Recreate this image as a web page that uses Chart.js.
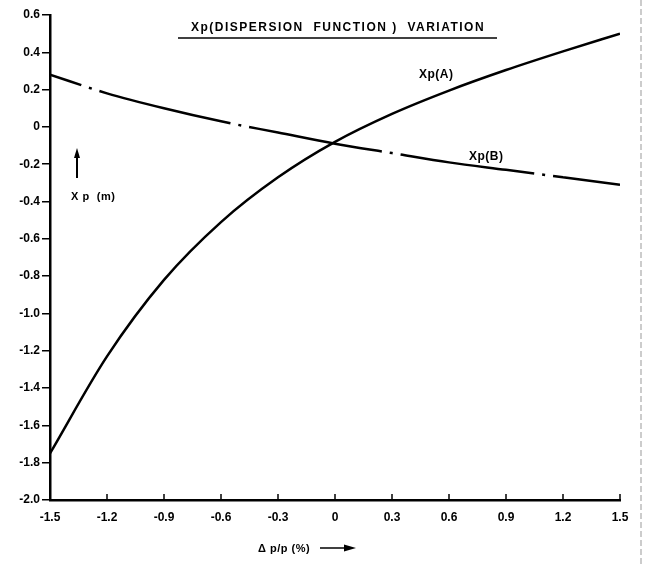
<!DOCTYPE html>
<html lang="en">
<head>
    <meta charset="UTF-8">
    <title>Xp variation</title>
    <script src="https://cdn.jsdelivr.net/npm/chart.js"></script>
    <style>
        html, body { margin: 0; padding: 0; background: #fff; }
        #wrap { width: 648px; height: 566px; }
    </style>
</head>
<body>
    <div id="wrap"><canvas id="grafica"></canvas></div>
<script>

// dp/p (%) at each tick
const dpp = [-1.5, -1.2, -0.9, -0.6, -0.3, 0, 0.3, 0.6, 0.9, 1.2, 1.5];
// Xp(A), Xp(B) in m
const xpA = [-1.75, -1.23, -0.82, -0.51, -0.27, -0.08, 0.07, 0.195, 0.305, 0.405, 0.50];
const xpB = [0.28, 0.18, 0.10, 0.03, -0.03, -0.09, -0.14, -0.19, -0.23, -0.27, -0.31];

const xTicks = ['-1.5', '-1.2', '-0.9', '-0.6', '-0.3', '0', '0.3', '0.6', '0.9', '1.2', '1.5'];
const yTicks = ['0.6', '0.4', '0.2', '0', '-0.2', '-0.4', '-0.6', '-0.8', '-1.0', '-1.2', '-1.4', '-1.6', '-1.8', '-2.0'];

const fuente = '"Liberation Sans", Arial, sans-serif';

function puntos(ys) {
    return dpp.map((x, i) => ({ x: x, y: ys[i] }));
}

// extra text, arrows and inward x ticks
const extras = {
    id: 'extras',
    afterDraw(chart) {
        const c = chart.ctx;
        const xs = chart.scales.x;
        const area = chart.chartArea;
        c.save();
        c.strokeStyle = '#000';
        c.fillStyle = '#000';

        // x ticks pointing up
        c.lineWidth = 1.5;
        for (const v of dpp) {
            const px = xs.getPixelForValue(v);
            c.beginPath();
            c.moveTo(px, area.bottom);
            c.lineTo(px, area.bottom - 6);
            c.stroke();
        }

        // title
        c.font = 'bold 12px ' + fuente;
        c.letterSpacing = '1.5px';
        c.textAlign = 'center';
        c.textBaseline = 'alphabetic';
        c.fillText('Xp(DISPERSION  FUNCTION )  VARIATION', 338, 31);
        c.lineWidth = 1.5;
        c.beginPath();
        c.moveTo(178, 38);
        c.lineTo(497, 38);
        c.stroke();

        // curve labels
        c.letterSpacing = '0.5px';
        c.textAlign = 'left';
        c.fillText('Xp(A)', 419, 78);
        c.fillText('Xp(B)', 469, 160);
        c.font = 'bold 11px ' + fuente;
        c.fillText('X p  (m)', 71, 200);

        // up arrow for Xp (m)
        c.lineWidth = 2;
        c.beginPath();
        c.moveTo(77, 178);
        c.lineTo(77, 156);
        c.stroke();
        c.beginPath();
        c.moveTo(77, 148);
        c.lineTo(74, 158);
        c.lineTo(80, 158);
        c.closePath();
        c.fill();

        // x axis title with arrow
        c.fillText('\u0394 p/p (%)', 258, 552);
        c.lineWidth = 1.5;
        c.beginPath();
        c.moveTo(320, 548);
        c.lineTo(346, 548);
        c.stroke();
        c.beginPath();
        c.moveTo(356, 548);
        c.lineTo(344, 544.5);
        c.lineTo(344, 551.5);
        c.closePath();
        c.fill();

        // page edge on the right
        c.strokeStyle = '#999';
        c.lineWidth = 1;
        c.setLineDash([6, 3]);
        c.beginPath();
        c.moveTo(641, 0);
        c.lineTo(641, 566);
        c.stroke();
        c.restore();
    }
};

new Chart(document.getElementById('grafica'), {
    type: 'line',
    data: {
        datasets: [{
            label: 'Xp(A)',
            data: puntos(xpA),
            borderColor: '#000',
            borderWidth: 2.5,
            pointRadius: 0,
            cubicInterpolationMode: 'monotone'
        }, {
            label: 'Xp(B)',
            data: puntos(xpB),
            borderColor: '#000',
            borderWidth: 2.5,
            borderDash: [135, 8, 3, 8],
            borderDashOffset: 102,
            pointRadius: 0,
            cubicInterpolationMode: 'monotone'
        }]
    },
    options: {
        responsive: true,
        maintainAspectRatio: false,
        animation: false,
        layout: { padding: { left: 0, right: 28, top: 15, bottom: 0 } },
        plugins: {
            legend: { display: false },
            tooltip: { enabled: false }
        },
        scales: {
            x: {
                type: 'linear',
                min: -1.5,
                max: 1.5,
                afterBuildTicks(s) { s.ticks = dpp.map(v => ({ value: v })); },
                afterFit(s) { s.height = 66; },
                ticks: {
                    callback: (v, i) => xTicks[i],
                    color: '#000',
                    font: { family: fuente, size: 12, weight: 'bold' },
                    padding: 10,
                    maxRotation: 0,
                    autoSkip: false
                },
                grid: { drawOnChartArea: false, drawTicks: false },
                border: { color: '#000', width: 2.5 }
            },
            y: {
                min: -2.0,
                max: 0.6,
                afterBuildTicks(s) { s.ticks = yTicks.map(t => ({ value: parseFloat(t) })); },
                afterFit(s) { s.width = 50; },
                ticks: {
                    callback: (v, i) => yTicks[i],
                    color: '#000',
                    font: { family: fuente, size: 12, weight: 'bold' },
                    padding: 2,
                    autoSkip: false
                },
                grid: { drawOnChartArea: false, drawTicks: true, tickLength: 8, color: '#000', lineWidth: 1.5 },
                border: { color: '#000', width: 2.5 }
            }
        }
    },
    plugins: [extras]
});

</script>
</body>
</html>
